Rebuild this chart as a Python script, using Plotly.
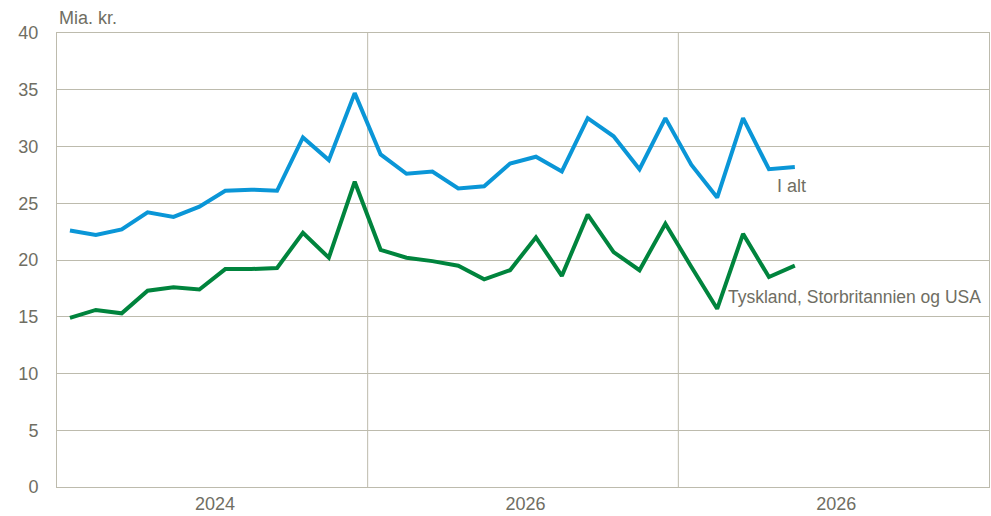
import numpy as np
import plotly.graph_objects as go

i_alt = [22.6, 22.2, 22.7, 24.2, 23.8, 24.7, 26.1, 26.2, 26.1, 30.8, 28.8, 34.7,
         29.3, 27.6, 27.8, 26.3, 26.5, 28.5, 29.1, 27.8, 32.5, 30.9, 28.0, 32.5,
         28.4, 25.5, 32.5, 28.0, 28.2]
tysk_uk_usa = [14.9, 15.6, 15.3, 17.3, 17.6, 17.4, 19.2, 19.2, 19.3, 22.4, 20.2, 26.9,
               20.9, 20.2, 19.9, 19.5, 18.3, 19.1, 22.0, 18.6, 24.0, 20.7, 19.1, 23.2,
               19.4, 15.7, 22.3, 18.5, 19.5]
year_labels = ["2024", "2026", "2026"]
months_per_year = 12
y_ticks = [0, 5, 10, 15, 20, 25, 30, 35, 40]

x = np.arange(len(i_alt)) + 0.5

font_fam = "Liberation Sans, Arial, sans-serif"
txt_col = "#6f6e63"
grid_col = "#bdbbad"

fig = go.Figure()
fig.add_trace(go.Scatter(x=x, y=i_alt, mode="lines", name="I alt",
                         line=dict(color="#0a96d7", width=4)))
fig.add_trace(go.Scatter(x=x, y=tysk_uk_usa, mode="lines",
                         name="Tyskland, Storbritannien og USA",
                         line=dict(color="#00843d", width=4)))

n_years = len(year_labels)
fig.update_xaxes(range=[0, n_years * months_per_year],
                 tickvals=[months_per_year * (k + 0.5) + 0.1 for k in range(n_years)],
                 ticktext=year_labels, ticks="", showgrid=False,
                 showline=True, linecolor=grid_col, linewidth=1, mirror=True,
                 tickfont=dict(family=font_fam, size=18, color=txt_col),
                 zeroline=False, fixedrange=True)
fig.update_yaxes(range=[0, 40], tickvals=y_ticks, showgrid=True, gridcolor=grid_col,
                 gridwidth=1, showline=True, linecolor=grid_col, linewidth=1, mirror=True,
                 ticks="", ticklabelstandoff=14,
                 tickfont=dict(family=font_fam, size=18, color=txt_col),
                 zeroline=False, fixedrange=True)

# year separators
for k in range(1, n_years):
    fig.add_vline(x=k * months_per_year, line=dict(color=grid_col, width=1), layer="below")

fig.add_annotation(x=27.75, y=26.5, text="I alt", showarrow=False, xanchor="left",
                   yanchor="middle", font=dict(family=font_fam, size=18, color=txt_col))
fig.add_annotation(x=25.85, y=16.7, text="Tyskland, Storbritannien og USA", showarrow=False,
                   xanchor="left", yanchor="middle",
                   font=dict(family=font_fam, size=17.5, color=txt_col))
fig.add_annotation(xref="paper", yref="paper", x=0, y=1, yshift=3, text="Mia. kr.",
                   showarrow=False, xanchor="left", yanchor="bottom",
                   font=dict(family=font_fam, size=18, color=txt_col))

fig.update_layout(width=991, height=516, margin=dict(l=57, r=2, t=33, b=29),
                  plot_bgcolor="white", paper_bgcolor="white", showlegend=False)

fig.write_html("out.html", config={"displayModeBar": False},
               post_script="document.body.style.margin='0';")
